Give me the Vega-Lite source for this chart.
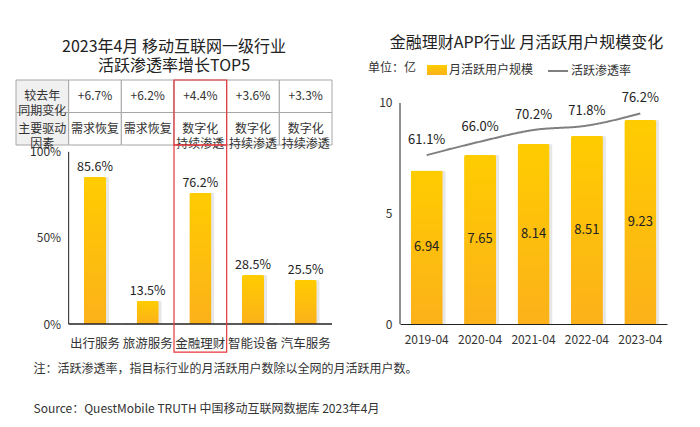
{
  "$schema": "https://vega.github.io/schema/vega-lite/v6.json",
  "background": "white",
  "padding": {"left": 15, "top": 35, "right": 10, "bottom": 10},
  "config": {
    "font": "Noto Sans CJK SC",
    "view": {"stroke": null},
    "axis": {"labelColor": "#333", "labelFontSize": 12, "grid": false, "ticks": false, "domain": false}
  },
  "title": {
    "text": "注：活跃渗透率，指目标行业的月活跃用户数除以全网的月活跃用户数。",
    "subtitle": "Source：QuestMobile TRUTH 中国移动互联网数据库 2023年4月",
    "orient": "bottom", "anchor": "start", "fontSize": 12, "fontWeight": "normal", "color": "#333",
    "subtitleFontSize": 12, "subtitleColor": "#333", "subtitlePadding": 28, "offset": 11, "dx": 18
  },
  "spacing": 35,
  "resolve": {"scale": {"stroke": "independent", "strokeDash": "independent"}, "legend": {"stroke": "independent", "strokeDash": "independent"}},
  "hconcat": [
    {
      "title": {"text": ["2023年4月 移动互联网一级行业", "活跃渗透率增长TOP5"], "fontSize": 16, "fontWeight": "normal", "color": "#222", "lineHeight": 19, "offset": 5, "anchor": "middle"},
      "spacing": 0,
      "bounds": "flush",
      "vconcat": [
        {
          "width": 316, "height": 65,
          "data": {"values": [
            {"cat": "_", "row": "r1", "text": "较去年\n同期变化"},
            {"cat": "出行服务", "row": "r1", "text": "+6.7%"},
            {"cat": "旅游服务", "row": "r1", "text": "+6.2%"},
            {"cat": "金融理财", "row": "r1", "text": "+4.4%"},
            {"cat": "智能设备", "row": "r1", "text": "+3.6%"},
            {"cat": "汽车服务", "row": "r1", "text": "+3.3%"},
            {"cat": "_", "row": "r2", "text": "主要驱动\n因素"},
            {"cat": "出行服务", "row": "r2", "text": "需求恢复"},
            {"cat": "旅游服务", "row": "r2", "text": "需求恢复"},
            {"cat": "金融理财", "row": "r2", "text": "数字化\n持续渗透"},
            {"cat": "智能设备", "row": "r2", "text": "数字化\n持续渗透"},
            {"cat": "汽车服务", "row": "r2", "text": "数字化\n持续渗透"}
          ]},
          "encoding": {
            "x": {"field": "cat", "type": "nominal", "scale": {"domain": ["_", "出行服务", "旅游服务", "金融理财", "智能设备", "汽车服务"], "paddingInner": 0, "paddingOuter": 0}, "axis": null}
          },
          "layer": [
            {
              "mark": {"type": "rect", "stroke": "#a6a6a6", "strokeWidth": 1},
              "encoding": {
                "y": {"field": "row", "type": "nominal", "scale": {"domain": ["r1", "r2"], "paddingInner": 0, "paddingOuter": 0}, "axis": null},
                "fill": {"condition": {"test": "datum.cat === '_'", "value": "#f0f0f0"}, "value": "#ffffff"}
              }
            },
            {
              "mark": {"type": "text", "fontSize": 12, "color": "#333", "lineBreak": "\n", "lineHeight": 15, "baseline": "middle"},
              "encoding": {
                "y": {"field": "row", "type": "nominal", "scale": {"domain": ["r1", "r2"], "paddingInner": 0, "paddingOuter": 0}, "axis": null},
                "text": {"field": "text", "type": "nominal"}
              }
            },
            {
              "transform": [{"filter": "datum.cat === '金融理财' && datum.row === 'r1'"}],
              "mark": {"type": "rect", "fill": "transparent", "stroke": "#e8363a", "strokeWidth": 1.2}
            }
          ]
        },
        {
          "width": 316, "height": 179,
          "data": {"values": [
            {"cat": "出行服务", "pen": 0.856},
            {"cat": "旅游服务", "pen": 0.135},
            {"cat": "金融理财", "pen": 0.762},
            {"cat": "智能设备", "pen": 0.285},
            {"cat": "汽车服务", "pen": 0.255}
          ]},
          "encoding": {
            "x": {"field": "cat", "type": "nominal", "scale": {"domain": ["_", "出行服务", "旅游服务", "金融理财", "智能设备", "汽车服务"], "paddingInner": 0, "paddingOuter": 0},
                  "axis": {"labelExpr": "datum.value === '_' ? '' : datum.value", "labelAngle": 0, "labelPadding": 13, "labelFontSize": 12.5, "title": null}}
          },
          "layer": [
            {
              "mark": {"type": "bar", "width": {"band": 0.42}, "xOffset": 3, "color": "#cfcfcf", "opacity": 0.5, "cornerRadiusTopLeft": 2, "cornerRadiusTopRight": 2},
              "encoding": {"y": {"field": "pen", "type": "quantitative", "scale": {"domain": [0, 1.04], "nice": false}, "axis": {"values": [0, 0.5, 1], "format": ".0%", "offset": -52.67, "labelPadding": 8, "title": null}}}
            },
            {
              "mark": {"type": "bar", "width": {"band": 0.42}, "cornerRadiusTopLeft": 2, "cornerRadiusTopRight": 2,
                       "fill": {"gradient": "linear", "x1": 0, "y1": 0, "x2": 0, "y2": 1, "stops": [{"offset": 0, "color": "#FFCC00"}, {"offset": 1, "color": "#FCB11A"}]}},
              "encoding": {"y": {"field": "pen", "type": "quantitative"}}
            },
            {
              "mark": {"type": "text", "dy": -10, "fontSize": 12.5, "color": "#222"},
              "encoding": {"y": {"field": "pen", "type": "quantitative"}, "text": {"field": "pen", "type": "quantitative", "format": ".1%"}}
            },
            {
              "transform": [{"filter": "datum.cat === '出行服务'"}],
              "mark": {"type": "rule", "color": "#222", "strokeWidth": 1},
              "encoding": {"x": {"field": "cat", "type": "nominal", "bandPosition": 0}, "y": {"datum": 0}, "y2": {"datum": 1}}
            },
            {
              "mark": {"type": "rect", "fill": "transparent", "stroke": "#222", "strokeWidth": 1},
              "encoding": {"y": {"datum": 0}, "y2": {"datum": 0}}
            },
            {
              "transform": [{"filter": "datum.cat === '金融理财'"}],
              "mark": {"type": "rect", "fill": "transparent", "stroke": "#e8363a", "strokeWidth": 1.2},
              "encoding": {"y": {"datum": 1.04}, "y2": {"datum": -0.163}}
            }
          ]
        }
      ]
    },
    {
      "width": 267, "height": 244,
      "title": {"text": "金融理财APP行业 月活跃用户规模变化", "fontSize": 16, "fontWeight": "normal", "color": "#222", "offset": 9, "frame": "group", "anchor": "middle", "dx": -7},
      "data": {"values": [
        {"year": "2019-04", "mau": 6.94, "pen": 0.611},
        {"year": "2020-04", "mau": 7.65, "pen": 0.660},
        {"year": "2021-04", "mau": 8.14, "pen": 0.702},
        {"year": "2022-04", "mau": 8.51, "pen": 0.718},
        {"year": "2023-04", "mau": 9.23, "pen": 0.762}
      ]},
      "encoding": {
        "x": {"field": "year", "type": "ordinal", "scale": {"paddingInner": 0, "paddingOuter": 0},
              "axis": {"domain": true, "domainColor": "#222", "labelAngle": 0, "labelPadding": 10, "title": null}}
      },
      "layer": [
        {
          "mark": {"type": "bar", "width": {"band": 0.6}, "xOffset": 3, "color": "#cfcfcf", "opacity": 0.5, "cornerRadiusTopLeft": 2, "cornerRadiusTopRight": 2},
          "encoding": {"y": {"field": "mau", "type": "quantitative", "scale": {"domain": [0, 11.04], "nice": false}, "axis": null}}
        },
        {
          "mark": {"type": "bar", "width": {"band": 0.6}, "strokeWidth": 0, "cornerRadiusTopLeft": 2, "cornerRadiusTopRight": 2,
                   "fill": {"gradient": "linear", "x1": 0, "y1": 0, "x2": 0, "y2": 1, "stops": [{"offset": 0, "color": "#FFCC00"}, {"offset": 1, "color": "#FCB11A"}]}},
          "encoding": {
            "y": {"field": "mau", "type": "quantitative", "scale": {"domain": [0, 11.04], "nice": false}, "axis": {"values": [0, 5, 10], "labelPadding": 8, "title": null}},
            "stroke": {"datum": "月活跃用户规模", "type": "nominal",
                       "scale": {"domain": ["月活跃用户规模"], "range": ["#FDBF10"]},
                       "legend": {"orient": "none", "legendX": -32, "legendY": -20, "direction": "horizontal",
                                  "title": "单位：亿", "titleOrient": "left", "titleFontSize": 12, "titleFontWeight": "normal", "titleColor": "#333", "titlePadding": 10,
                                  "labelFontSize": 12, "labelColor": "#333", "labelOffset": 2, "symbolSize": 400,
                                  "symbolType": "M-1,-0.5H1V0.5H-1Z", "symbolFillColor": "#FDBF10", "symbolStrokeWidth": 0,
                                  "encode": {"symbols": {"update": {"fill": {"value": "#FDBF10"}, "shape": {"value": "M-1,-0.5H1V0.5H-1Z"}, "cornerRadius": {"value": 3}}}}}}
          }
        },
        {
          "transform": [{"filter": "datum.year === '2019-04'"}],
          "mark": {"type": "rule", "color": "#222", "strokeWidth": 1},
          "encoding": {"x": {"field": "year", "type": "ordinal", "bandPosition": 0},
                       "y": {"datum": 0, "type": "quantitative", "scale": {"domain": [0, 11.04], "nice": false}, "axis": null}, "y2": {"datum": 10}}
        },
        {
          "mark": {"type": "text", "fontSize": 13, "color": "#222", "baseline": "middle"},
          "encoding": {"y": {"field": "mau", "type": "quantitative", "scale": {"domain": [0, 22.08], "nice": false}, "axis": null},
                       "text": {"field": "mau", "type": "quantitative", "format": ".2f"}}
        },
        {
          "mark": {"type": "line", "interpolate": "monotone", "strokeWidth": 2, "stroke": "#7f7f7f"},
          "encoding": {"y": {"field": "pen", "type": "quantitative", "scale": {"domain": [0, 0.883], "nice": false}, "axis": null},
                       "strokeDash": {"datum": "活跃渗透率", "type": "nominal", "scale": {"domain": ["活跃渗透率"], "range": [[1, 0]]},
                                      "legend": {"orient": "none", "legendX": 147, "legendY": -20, "direction": "horizontal", "title": null,
                                                 "labelFontSize": 12, "labelColor": "#333", "labelOffset": 2, "symbolSize": 400,
                                                 "symbolType": "stroke", "symbolStrokeColor": "#7f7f7f", "symbolStrokeWidth": 2}}}
        },
        {
          "mark": {"type": "text", "fontSize": 13, "color": "#222", "dy": -15},
          "encoding": {"y": {"field": "pen", "type": "quantitative", "scale": {"domain": [0, 0.883], "nice": false}, "axis": null},
                       "text": {"field": "pen", "type": "quantitative", "format": ".1%"}}
        }
      ],
      "resolve": {"scale": {"y": "independent"}}
    }
  ]
}
